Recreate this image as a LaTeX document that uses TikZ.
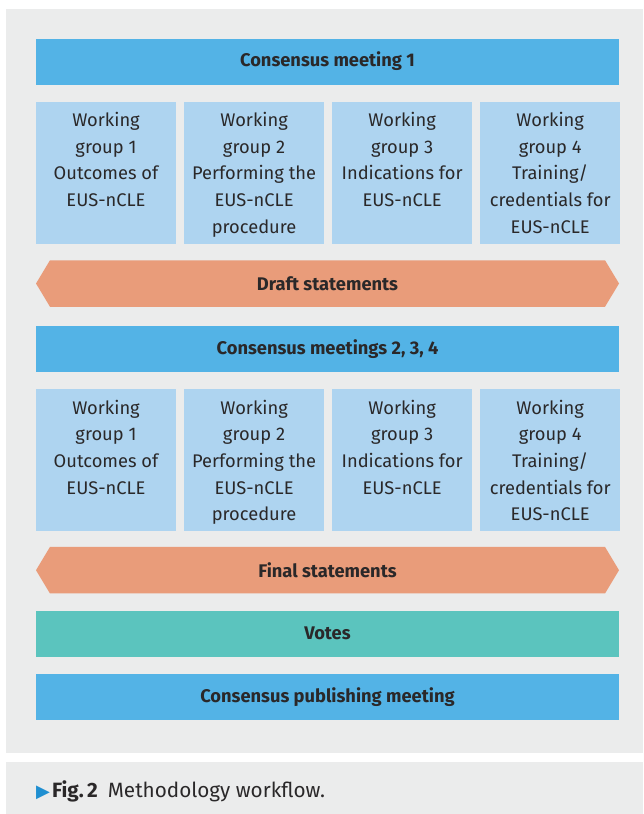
\documentclass[tikz,border=0pt]{standalone}
\usepackage{fontspec}
\setmainfont{Fira Sans}
\newfontfamily\symfont{DejaVu Sans}
\usetikzlibrary{positioning,shapes.symbols}
\definecolor{panelgray}{HTML}{EBECEC}
\definecolor{headblue}{HTML}{53B3E6}
\definecolor{wgblue}{HTML}{AED4F0}
\definecolor{stmtorange}{HTML}{E99C7A}
\definecolor{voteteal}{HTML}{5BC4BE}
\definecolor{textdark}{HTML}{2A2829}
\definecolor{capblue}{HTML}{1F8FD1}
\newcommand\wgtext[1]{\parbox[c][121pt][t]{138pt}{\centering\fontsize{18.3}{26.7}\selectfont #1}}
\begin{document}
\begin{tikzpicture}[x=1pt, y=-1pt, font=\fontsize{16.5}{20}\selectfont, text=textdark]
       \tikzstyle{headbar}=[fill=headblue, minimum width=583pt, minimum height=46pt, inner sep=0pt, font=\fontsize{18.3}{20}\selectfont\bfseries]
       \tikzstyle{wgbox}=[fill=wgblue, minimum width=140pt, minimum height=142pt, inner sep=0pt]
       \tikzstyle{stmtbar}=[signal, signal to=east and west, signal pointer angle=118, fill=stmtorange, minimum width=583pt, minimum height=46.5pt, inner sep=0pt, font=\fontsize{18.3}{20}\selectfont\bfseries]
       \useasboundingbox (0,0) rectangle (643,814);
       % background panels
       \fill[panelgray] (6,9) rectangle (643,752.7);
       \fill[panelgray] (6,762) rectangle (643,814);
       % first meeting
       \node[headbar] (meet1) at (327.5,61.5) {Consensus meeting 1};
       \node[wgbox, below right=16.7pt and 0pt of meet1.south west] (wg11) {\wgtext{Working\\group 1\\Outcomes of\\EUS-nCLE}};
       \node[wgbox, right=7.67pt of wg11] (wg12) {\wgtext{Working\\group 2\\Performing the\\EUS-nCLE\\procedure}};
       \node[wgbox, right=7.67pt of wg12] (wg13) {\wgtext{Working\\group 3\\Indications for\\EUS-nCLE}};
       \node[wgbox, right=7.67pt of wg13] (wg14) {\wgtext{Working\\group 4\\Training/\\credentials for\\EUS-nCLE}};
       \node[stmtbar] (draft) at (327.5,283.5) {Draft statements};
       % meetings 2, 3, 4
       \node[headbar] (meet2) at (327.5,349.3) {Consensus meetings 2, 3, 4};
       \node[wgbox, below right=16.7pt and 0pt of meet2.south west] (wg21) {\wgtext{Working\\group 1\\Outcomes of\\EUS-nCLE}};
       \node[wgbox, right=7.67pt of wg21] (wg22) {\wgtext{Working\\group 2\\Performing the\\EUS-nCLE\\procedure}};
       \node[wgbox, right=7.67pt of wg22] (wg23) {\wgtext{Working\\group 3\\Indications for\\EUS-nCLE}};
       \node[wgbox, right=7.67pt of wg23] (wg24) {\wgtext{Working\\group 4\\Training/\\credentials for\\EUS-nCLE}};
       \node[stmtbar] (final) at (327.5,570.2) {Final statements};
       \node[headbar, fill=voteteal] (votes) at (327.5,633.7) {Votes};
       \node[headbar] (publish) at (327.5,697) {Consensus publishing meeting};
       % caption
       \node[anchor=base west, inner sep=0pt, font=\fontsize{20.7}{22}\selectfont] (caption) at (36,797) {{\color{capblue}\symfont\fontsize{18}{20}\selectfont ▶}\hspace{2pt}\textbf{Fig.\,2}\hspace{10pt}Methodology workflow.};
      \end{tikzpicture}
\end{document}
